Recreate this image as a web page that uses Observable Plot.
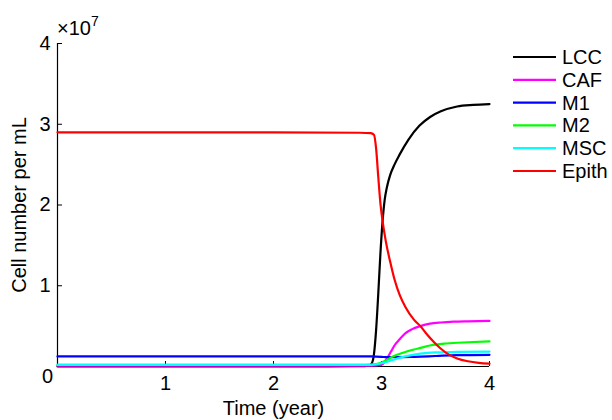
<!DOCTYPE html>
<html><head><meta charset="utf-8">
<script src="https://cdn.jsdelivr.net/npm/d3@7"></script>
<script src="https://cdn.jsdelivr.net/npm/@observablehq/plot@0.6"></script>
<style>body{margin:0;background:#fff} #chart{width:612px;height:420px}</style>
</head><body><div id="chart"></div>
<script>
const seriesNames = ["LCC", "CAF", "M1", "M2", "MSC", "Epith"];
const seriesColors = ["#000000", "#ff00ff", "#0000ff", "#00ff00", "#00ffff", "#ff0000"];

// time (year) and cell number (x 1e7 per mL)
const lccT = [0, 2.5, 2.8, 2.88, 2.91, 2.93, 2.95, 2.97, 2.99, 3.01, 3.03, 3.05, 3.08, 3.12, 3.17, 3.25, 3.35, 3.45, 3.55, 3.7, 3.85, 4];
const lccV = [0, 0, 0.003, 0.01, 0.04, 0.15, 0.45, 0.9, 1.4, 1.8, 2.07, 2.22, 2.37, 2.5, 2.63, 2.81, 2.98, 3.09, 3.16, 3.22, 3.24, 3.25];
const cafT = [0, 2.9, 3.0, 3.03, 3.06, 3.09, 3.12, 3.17, 3.22, 3.28, 3.36, 3.45, 3.55, 3.67, 3.8, 4];
const cafV = [0.01, 0.01, 0.02, 0.06, 0.12, 0.19, 0.26, 0.34, 0.41, 0.46, 0.5, 0.53, 0.545, 0.555, 0.56, 0.565];
const m1T = [0, 2.9, 3.0, 3.05, 3.15, 3.3, 3.5, 3.7, 4];
const m1V = [0.125, 0.125, 0.12, 0.115, 0.115, 0.12, 0.13, 0.14, 0.145];
const m2T = [0, 2.85, 2.95, 3.0, 3.05, 3.1, 3.2, 3.3, 3.36, 3.45, 3.6, 3.8, 4];
const m2V = [0.02, 0.02, 0.03, 0.05, 0.08, 0.12, 0.17, 0.21, 0.23, 0.26, 0.285, 0.3, 0.31];
const mscT = [0, 2.9, 3.0, 3.1, 3.2, 3.36, 3.5, 3.7, 4];
const mscV = [0.02, 0.02, 0.04, 0.08, 0.12, 0.16, 0.175, 0.18, 0.185];
const epiT = [0, 1, 2, 2.8, 2.9, 2.93, 2.95, 2.97, 2.99, 3.01, 3.04, 3.08, 3.12, 3.17, 3.22, 3.3, 3.36, 3.42, 3.48, 3.55, 3.62, 3.7, 3.8, 3.9, 4];
const epiV = [2.9, 2.9, 2.9, 2.895, 2.89, 2.87, 2.7, 2.35, 2.02, 1.8, 1.55, 1.3, 1.08, 0.88, 0.74, 0.58, 0.5, 0.4, 0.31, 0.22, 0.15, 0.1, 0.065, 0.045, 0.035];

const xTicks = [0, 1, 2, 3, 4];
const xTickLabels = [1, 2, 3, 4];
const yTicks = [0, 1, 2, 3, 4];
const yTickLabels = [1, 2, 3, 4];

const seriesT = [lccT, cafT, m1T, m2T, mscT, epiT];
const seriesV = [lccV, cafV, m1V, m2V, mscV, epiV];
const rows = [];
seriesNames.forEach((name, i) => {
  seriesT[i].forEach((t, j) => rows.push({series: name, t, v: seriesV[i][j]}));
});

const W = 612, H = 420, mL = 57, mR = 123, mT = 43, mB = 54;
const frameW = W - mL - mR, frameH = H - mT - mB;
const font = "'Liberation Sans', Arial, Helvetica, sans-serif";

const plot = Plot.plot({
  width: W, height: H,
  marginLeft: mL, marginRight: mR, marginTop: mT, marginBottom: mB,
  style: {fontFamily: font, fontSize: "20px", background: "#fff", color: "#000", overflow: "visible"},
  x: {domain: [0, 4]},
  y: {domain: [0, 4]},
  color: {domain: seriesNames, range: seriesColors},
  marks: [
    Plot.axisX(xTickLabels, {tickSize: 0, tickPadding: 9, label: null, fontSize: 20, tickFormat: d => String(d)}),
    Plot.axisY(yTickLabels, {tickSize: 0, tickPadding: 7, label: null, fontSize: 20, tickFormat: d => String(d)}),
    Plot.tickX(xTicks, {x: d => d, insetTop: frameH - 5, stroke: "#000", strokeWidth: 1}),
    Plot.tickY(yTicks, {y: d => d, insetRight: frameW - 5, stroke: "#000", strokeWidth: 1}),
    Plot.ruleY([0], {stroke: "#000", strokeWidth: 1.2}),
    Plot.ruleX([0], {stroke: "#000", strokeWidth: 1.2}),
    Plot.line(rows, {x: "t", y: "v", z: "series", stroke: "series", strokeWidth: 2.2, curve: "monotone-x"}),
    Plot.text(["0"], {frameAnchor: "bottom-left", dx: -10, dy: 10, textAnchor: "middle", lineAnchor: "middle", fontSize: 20, fill: "#000"}),
    Plot.text(["Time (year)"], {frameAnchor: "bottom", dy: 42, lineAnchor: "middle", fontSize: 20, fill: "#000"}),
    Plot.text(["Cell number per mL"], {frameAnchor: "left", dx: -38, rotate: -90, textAnchor: "middle", lineAnchor: "middle", fontSize: 20, fill: "#000"})
  ]
});
document.getElementById("chart").appendChild(plot);

const svg = d3.select(plot);
// exponent label
const ex = svg.append("text").attr("x", 57).attr("y", 35).attr("text-anchor", "start")
  .style("font-family", font).style("font-size", "20px").attr("fill", "#000");
ex.append("tspan").text("\u00d710");
ex.append("tspan").attr("dy", -9).style("font-size", "14px").text("7");

// legend
const lg = svg.append("g").attr("text-anchor", "start").style("font-family", font).style("font-size", "20px");
seriesNames.forEach((name, i) => {
  const y = 57 + 22.8 * i;
  lg.append("line").attr("x1", 513).attr("x2", 556).attr("y1", y).attr("y2", y)
    .attr("stroke", seriesColors[i]).attr("stroke-width", 2.2);
  lg.append("text").attr("x", 562).attr("y", y).attr("dy", "0.35em").attr("fill", "#000").text(name);
});
</script>
</body></html>
